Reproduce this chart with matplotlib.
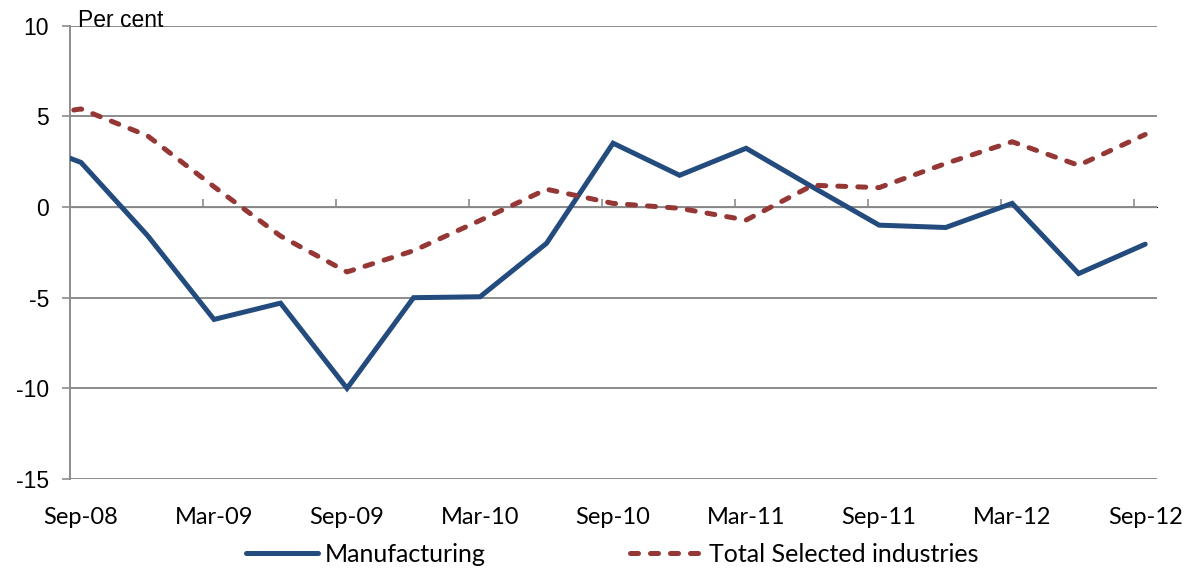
import matplotlib
matplotlib.use("Agg")
import matplotlib.pyplot as plt
import numpy as np

# Quarterly periods (Jun-08 is only partly visible, clipped by the axis)
quarters = ["Jun-08", "Sep-08", "Dec-08", "Mar-09", "Jun-09", "Sep-09", "Dec-09",
            "Mar-10", "Jun-10", "Sep-10", "Dec-10", "Mar-11", "Jun-11", "Sep-11",
            "Dec-11", "Mar-12", "Jun-12", "Sep-12"]
manufacturing = [3.85, 2.46, -1.57, -6.2, -5.3, -10.0, -5.0, -4.95, -2.0, 3.52,
                 1.75, 3.24, 1.1, -1.0, -1.13, 0.2, -3.67, -2.05]
total_selected = [4.86, 5.41, 3.93, 1.12, -1.6, -3.58, -2.41, -0.74, 0.98, 0.2,
                  -0.07, -0.72, 1.2, 1.07, 2.4, 3.6, 2.3, 4.0]
xtick_labels = ["Sep-08", "Mar-09", "Sep-09", "Mar-10", "Sep-10", "Mar-11",
                "Sep-11", "Mar-12", "Sep-12"]
yticks = [-15, -10, -5, 0, 5, 10]

BLUE = "#234B7E"
RED = "#953735"
GRID = "#8C8C8C"
CAL = ["Lato", "DejaVu Sans"]
ARIAL = ["Liberation Sans", "DejaVu Sans"]

fig = plt.figure(figsize=(11.96, 5.69), dpi=100)
ax = fig.add_axes([70 / 1196, 1 - 479 / 569, (1156.5 - 70) / 1196, (479 - 25.7) / 569])

x = np.arange(len(quarters)) - 1  # Sep-08 at 0
xmin, xmax = -0.165, 16.17

ax.plot(x, manufacturing, color=BLUE, lw=3.6, solid_capstyle="round",
        solid_joinstyle="miter", label="Manufacturing", zorder=3)
ax.plot(x, total_selected, color=RED, lw=3.6, dashes=(1.6, 2.4),
        dash_capstyle="round", label="Total Selected industries", zorder=3)

ax.set_xlim(xmin, xmax)
ax.set_ylim(-15, 10)

# y axis
ax.set_yticks(yticks)
ax.set_yticklabels([str(v) for v in yticks], family=ARIAL, fontsize=16.5)
ax.tick_params(axis="y", direction="out", length=6, width=1.2, color=GRID, pad=9)
ax.yaxis.grid(True, color=GRID, lw=1.4)
ax.set_axisbelow(True)

for s in ["top", "right", "bottom"]:
    ax.spines[s].set_visible(False)
ax.spines["left"].set_color(GRID)
ax.spines["left"].set_linewidth(1.4)

# x labels at bottom (no tick marks)
ax.set_xticks(np.arange(0, 17, 2))
ax.set_xticklabels(xtick_labels, family=CAL, fontsize=17)
ax.tick_params(axis="x", length=0, pad=20)

# axis line at zero with tick marks
sec = ax.secondary_xaxis(15 / 25)
sec.set_xticks(np.arange(xmin, xmax, 2))
sec.set_xticklabels([])
sec.tick_params(direction="out", length=6, width=1.2, color=GRID)
sec.spines["bottom"].set_color(GRID)
sec.spines["bottom"].set_linewidth(1.4)

ax.text(78 / 1196, 1 - 27 / 569, "Per cent", transform=fig.transFigure,
        family=ARIAL, fontsize=16.5, ha="left", va="baseline")

leg = fig.legend(loc="center", bbox_to_anchor=(612 / 1196, 1 - 554 / 569), ncol=2,
                 frameon=False, prop={"family": CAL, "size": 18},
                 handlelength=2.9, handletextpad=0.25, columnspacing=5.8)

fig.savefig("out.png", dpi=100)
